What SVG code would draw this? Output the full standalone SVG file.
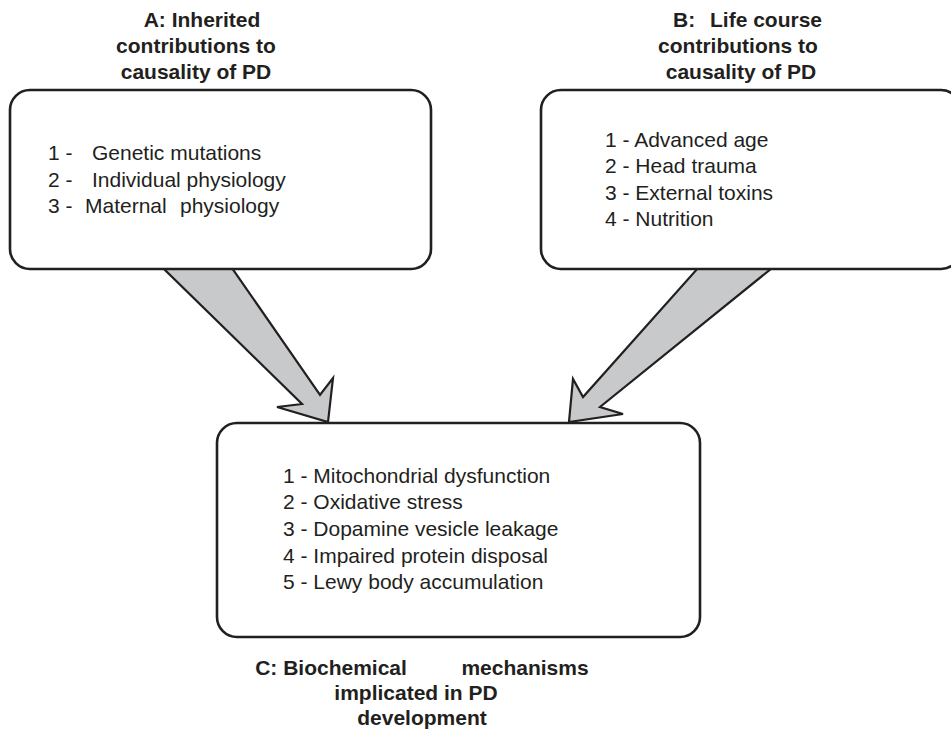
<svg xmlns="http://www.w3.org/2000/svg" width="951" height="732" viewBox="0 0 951 732">
<style>
.box{fill:#fff;stroke:#231f20;stroke-width:2.6}
.arr{fill:#c8c9cb;stroke:#231f20;stroke-width:2.2;stroke-linejoin:miter}
.t{font-family:"Liberation Sans",Arial,sans-serif;font-size:21px;fill:#231f20}
.h{font-family:"Liberation Sans",Arial,sans-serif;font-size:21px;font-weight:bold;fill:#231f20;text-anchor:middle}
</style>
<rect width="951" height="732" fill="#fff"/>
<g id="connectors">
<polygon class="arr" points="163,268 232,268 320,395 333,378 328,422 277,407 302,404"/>
<polygon class="arr" points="698,268 772,268 600,407 623,414 569,422 573,379 583,397"/>
</g>
<g id="nodeA">
<text class="h"><tspan x="202" y="27">A: Inherited</tspan><tspan x="196" y="53">contributions to</tspan><tspan x="196" y="79">causality of PD</tspan></text>
<rect class="box" x="10" y="90" width="421" height="179" rx="20"/>
<text class="t"><tspan x="48" y="160">1 -</tspan><tspan x="92" y="160">Genetic mutations</tspan></text>
<text class="t"><tspan x="48" y="187">2 -</tspan><tspan x="92" y="187">Individual physiology</tspan></text>
<text class="t"><tspan x="48" y="213">3 -</tspan><tspan x="85" y="213">Maternal</tspan><tspan x="180" y="213">physiology</tspan></text>
</g>
<g id="nodeB">
<text class="h" style="text-anchor:start"><tspan x="673" y="27">B:</tspan><tspan x="710" y="27">Life course</tspan></text>
<text class="h"><tspan x="738" y="53">contributions to</tspan><tspan x="741" y="79">causality of PD</tspan></text>
<rect class="box" x="541" y="90" width="420" height="179" rx="20"/>
<text class="t"><tspan x="605" y="147">1 - Advanced age</tspan><tspan x="605" y="173">2 - Head trauma</tspan><tspan x="605" y="200">3 - External toxins</tspan><tspan x="605" y="226">4 - Nutrition</tspan></text>
</g>
<g id="nodeC">
<rect class="box" x="217" y="423" width="483" height="214" rx="20"/>
<text class="t"><tspan x="283" y="483">1 - Mitochondrial dysfunction</tspan><tspan x="283" y="509">2 - Oxidative stress</tspan><tspan x="283" y="536">3 - Dopamine vesicle leakage</tspan><tspan x="283" y="563">4 - Impaired protein disposal</tspan><tspan x="283" y="589">5 - Lewy body accumulation</tspan></text>
<text class="h"><tspan x="331" y="675">C: Biochemical</tspan><tspan x="525" y="675">mechanisms</tspan><tspan x="416" y="700">implicated in PD</tspan><tspan x="422" y="725">development</tspan></text>
</g>
</svg>
